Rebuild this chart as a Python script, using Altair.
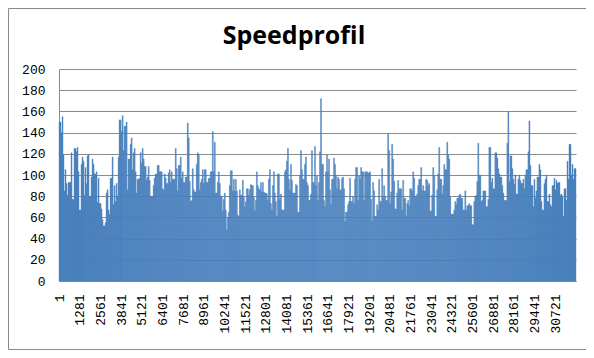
import altair as alt
import pandas as pd

TITLE = "Speedprofil"
N_POINTS = 32000
X_LABELS = [1, 1281, 2561, 3841, 5121, 6401, 7681, 8961, 10241, 11521, 12801,
            14081, 15361, 16641, 17921, 19201, 20481, 21761, 23041, 24321,
            25601, 26881, 28161, 29441, 30721]
Y_TICKS = list(range(0, 201, 20))

seg1 = [150,150, 140,155, 119,85, 105,92, 81,93, 93,93, 121,77, 77,125, 125,122, 126,103,
        67,67, 110,117, 113,81, 107,92, 118,119, 80,80, 98,115, 110,101, 101,103, 74,97,
        73,73, 68,58, 52,52, 55,83, 86,67, 63,97, 97,117, 72,90, 75,92, 80,117,
        152,152, 141,156, 123,146, 146,150, 86,115, 115,129, 135,105, 121,125, 103,83, 96,96,
        97,121, 111,125, 115,108, 108,95, 98,108, 95,80, 80,80, 90,97, 101,101, 109,109,
        103,103]
seg2 = [103,87, 86,101, 97,92, 92,102, 105,93, 103,96, 96,96, 125,106, 85,109, 109,117,
        97,103, 93,93, 98,98, 149,135, 94,75, 76,106, 86,84, 84,110, 121,119, 86,93,
        96,105, 92,105, 105,93, 93,97, 97,103, 103,141, 103,131, 83,83, 93,103, 92,80,
        80,66, 77,83, 67,48, 60,65, 90,104, 104,85, 96,85, 96,85, 62,61, 86,81,
        81,95, 79,70, 75,87, 87,81, 86,91, 90,90, 79,66, 76,103, 90,87, 86,93,
        84,93, 84,83]
seg3 = [83,82, 76,96, 105,73, 67,90, 103,83, 75,61, 101,101, 77,82, 67,67, 67,103,
        105,113, 125,96, 86,110, 95,83, 83,83, 91,90, 65,65, 100,123, 105,96, 96,110,
        117,93, 90,76, 76,82, 123,93, 93,127, 90,99, 76,93, 122,172, 110,110, 76,70,
        103,119, 103,115, 86,72, 96,96, 116,110, 100,87, 98,96, 86,86, 97,98, 87,56,
        65,65, 72,75, 97,75, 75,80, 73,96, 107,107, 76,99, 96,107, 103,103, 76,103,
        103,103, 102,102]
seg4 = [103,77, 57,93, 85,61, 61,72, 67,96, 75,75, 106,80, 90,80, 76,76, 139,123,
        73,84, 129,115, 94,68, 68,83, 95,87, 87,87, 67,95, 78,78, 61,73, 76,71,
        87,87, 85,103, 97,80, 80,82, 90,96, 96,107, 85,90, 85,85, 96,95, 90,92,
        66,66, 81,107, 100,61, 61,86, 101,126, 96,96, 82,90, 110,105, 105,131, 119,115,
        79,63, 63,63, 67,75, 72,78, 78,81, 82,78, 78,67, 67,85, 67,71, 71,73,
        71,71, 53,53]
seg5 = [75,80, 81,94, 130,100, 100,75, 76,85, 85,85, 70,70, 77,126, 126,93, 97,87,
        87,121, 121,116, 106,101, 98,98, 90,83, 76,76, 76,130, 160,94, 118,118, 106,96,
        91,100, 82,82, 96,100, 95,92, 92,96, 87,100, 105,105, 122,151, 109,90, 90,70,
        96,78, 85,98, 98,110, 105,75, 67,67, 92,96, 100,75, 75,82, 72,70, 90,90,
        97,86, 95,92, 93,93, 81,82, 80,61, 87,87, 76,113, 96,129, 129,100, 110,96,
        106,106]
SPEED = seg1 + seg2 + seg3 + seg4 + seg5

n = len(SPEED)
step = N_POINTS / n
df = pd.DataFrame({
    "start": [1 + i * step for i in range(n)],
    "end": [1 + (i + 1) * step for i in range(n)],
    "speed": SPEED,
})

BLUE = "#4a80bd"
GRID = "#8a8a8a"
LABEL_FONT = "Liberation Mono"

x_scale = alt.Scale(domain=[1, N_POINTS + 1], nice=False, zero=False)
y_scale = alt.Scale(domain=[0, 200], nice=False)

bars = alt.Chart(df).mark_rect(color=BLUE, stroke=BLUE, strokeWidth=0.4).encode(
    x=alt.X("start:Q", scale=x_scale,
            axis=alt.Axis(values=X_LABELS, format="d", title=None, labelAngle=270,
                          ticks=False, grid=False, labelPadding=13, labelFont=LABEL_FONT,
                          labelFontSize=13, labelColor="#000000", domainColor=GRID,
                          labelOverlap=False, labelFlush=False)),
    x2="end:Q",
    y=alt.Y("speed:Q", scale=y_scale,
            axis=alt.Axis(values=Y_TICKS, format="d", title=None, ticks=False, grid=True,
                          gridColor=GRID, gridWidth=1, gridOpacity=1,
                          labelPadding=14, labelFont=LABEL_FONT,
                          labelFontSize=13, labelColor="#000000", domainColor=GRID)),
    y2=alt.datum(0),
)

title_df = pd.DataFrame({"t": [TITLE]})
title = alt.Chart(title_df).mark_text(
    font="Open Sans", fontSize=25, fontWeight="bold", color="#000000",
    align="center", baseline="alphabetic"
).encode(text="t:N", x=alt.value(235), y=alt.value(-25))

frame = alt.Chart(title_df).mark_rect(fill=None, stroke=GRID, strokeWidth=1).encode(
    x=alt.value(-50.5), x2=alt.value(528.5), y=alt.value(-60.5), y2=alt.value(280.5)
)

chart = alt.layer(frame, bars, title).properties(
    width=517, height=212,
    autosize=alt.AutoSizeParams(type="none"),
    padding={"left": 51, "top": 61, "right": 10, "bottom": 69},
).configure_view(stroke=None).configure_axis(domainWidth=1)

chart.save("out.html", embed_options={"renderer": "svg", "actions": False})
